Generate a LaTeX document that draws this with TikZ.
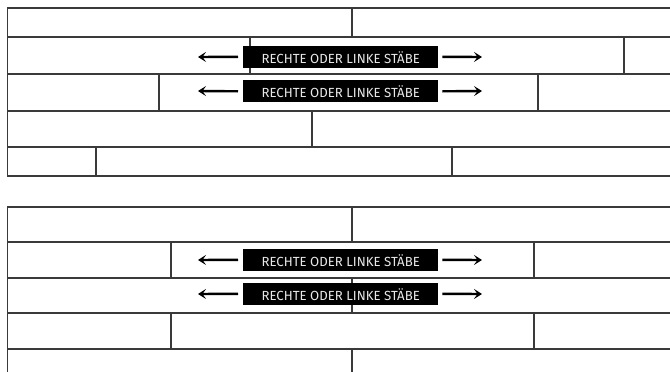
\documentclass[tikz,border=0pt]{standalone}
\usepackage{fontspec}
\setmainfont{Fira Sans}
\usetikzlibrary{arrows.meta}
\definecolor{linegray}{HTML}{3A3A3A}
\definecolor{labeltext}{HTML}{E8E8E8}
\tikzset{
  board/.style={draw=linegray, line width=1.2pt},
  label box/.style={fill=black, text=labeltext, inner sep=0pt, minimum width=195pt,
    text height=17.5pt, text depth=4.5pt, anchor=south west, font=\fontsize{13.2pt}{14pt}\selectfont},
  dir arrow/.style={line width=2.4pt, -{Stealth[length=8pt,width=10pt,inset=3.5pt]}}
}
\begin{document}
\begin{tikzpicture}[x=1pt,y=-1pt]
\useasboundingbox (0,0) rectangle (670,372);
% ---------- top block ----------
\foreach \y in {8,37,74,111,147,176} \draw[board] (7.3,\y) -- (672,\y);
\draw[board] (7.3,8) -- (7.3,176);
\draw[board] (352,8) -- (352,37);
\draw[board] (250,37) -- (250,74);
\draw[board] (624,37) -- (624,74);
\draw[board] (159,74) -- (159,111);
\draw[board] (538,74) -- (538,111);
\draw[board] (312,111) -- (312,147);
\draw[board] (96,147) -- (96,176);
\draw[board] (452,147) -- (452,176);
% ---------- bottom block ----------
\foreach \y in {207,242,278,313,349} \draw[board] (7.3,\y) -- (672,\y);
\draw[board] (7.3,207) -- (7.3,374);
\draw[board] (352,207) -- (352,242);
\draw[board] (171,242) -- (171,278);
\draw[board] (534,242) -- (534,278);
\draw[board] (352,278) -- (352,313);
\draw[board] (171,313) -- (171,349);
\draw[board] (534,313) -- (534,349);
\draw[board] (352,349) -- (352,374);
% ---------- labels ----------
\node[label box] (l1) at (243,68) {RECHTE ODER LINKE STÄBE};
\node[label box] (l2) at (243,102.5) {RECHTE ODER LINKE STÄBE};
\node[label box] (l3) at (243,271) {RECHTE ODER LINKE STÄBE};
\node[label box] (l4) at (243,305) {RECHTE ODER LINKE STÄBE};
% arrow ends
\coordinate (a1l) at (198,57);   \coordinate (a1r) at (482,57);
\coordinate (a2l) at (198,91);   \coordinate (a2r) at (482,91);
\coordinate (a3l) at (198,260);  \coordinate (a3r) at (482,260);
\coordinate (a4l) at (198,294);  \coordinate (a4r) at (482,294);
\foreach \n in {1,2,3,4}{
  \draw[dir arrow] ([xshift=-5pt]l\n.west) -- (a\n l);
  \draw[dir arrow] ([xshift=4pt]l\n.east) -- (a\n r);
}
\end{tikzpicture}
\end{document}
